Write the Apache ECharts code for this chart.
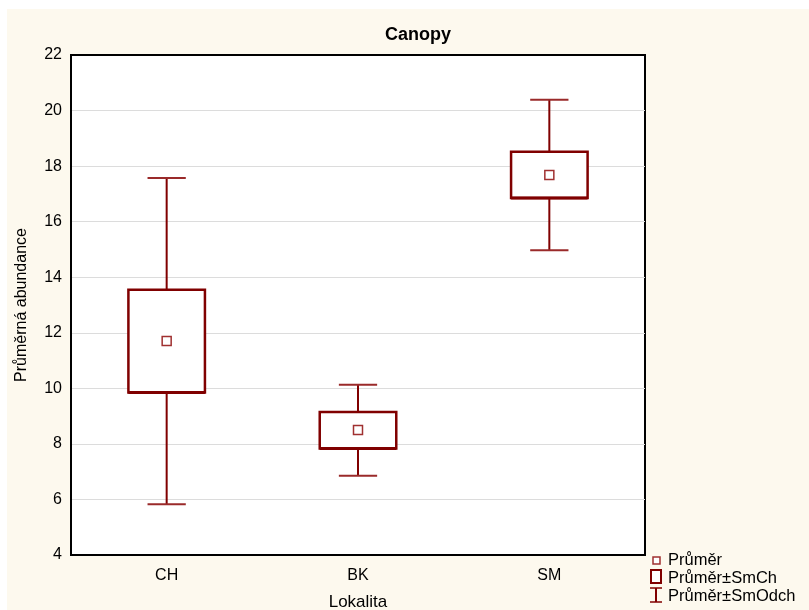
<!DOCTYPE html>
<html>
<head>
<meta charset="utf-8">
<script src="https://cdn.jsdelivr.net/npm/echarts@6/dist/echarts.min.js"></script>
<style>
html, body { margin: 0; padding: 0; background: #fff; }
#chart { width: 809px; height: 610px; }
</style>
</head>
<body>
<div id="chart"></div>
<script>
const categories = ['CH', 'BK', 'SM']
const means = [11.7, 8.5, 17.68]
const seLow = [9.85, 7.83, 16.85]
const seHigh = [13.55, 9.15, 18.52]
const sdLow = [5.83, 6.85, 14.97]
const sdHigh = [17.57, 10.13, 20.39]

const dark = '#800000'
const font = 'Liberation Sans, Arial, sans-serif'

let chart = echarts.init(document.getElementById('chart'))

// whiskers: mean ± SD
function renderWhisker (params, api) {
  let lo = api.coord([api.value(0), api.value(1)])
  let hi = api.coord([api.value(0), api.value(2)])
  let cap = api.size([1, 0])[0] * 0.1
  let x = lo[0]
  return {
    type: 'group',
    children: [
      { type: 'line', shape: { x1: x, y1: lo[1], x2: x, y2: hi[1] }, style: { stroke: dark, lineWidth: 2 } },
      { type: 'line', shape: { x1: x - cap, y1: lo[1], x2: x + cap, y2: lo[1] }, style: { stroke: '#9a2a2a', lineWidth: 2 } },
      { type: 'line', shape: { x1: x - cap, y1: hi[1], x2: x + cap, y2: hi[1] }, style: { stroke: '#9a2a2a', lineWidth: 2 } }
    ]
  }
}

// box: mean ± SE
function renderBox (params, api) {
  let lo = api.coord([api.value(0), api.value(1)])
  let hi = api.coord([api.value(0), api.value(2)])
  let half = api.size([1, 0])[0] * 0.2
  let x = lo[0]
  return {
    type: 'group',
    children: [
      { type: 'rect', shape: { x: x - half, y: hi[1], width: half * 2, height: lo[1] - hi[1] }, style: { fill: '#fff', stroke: dark, lineWidth: 2.5 } },
      { type: 'line', shape: { x1: x - half, y1: lo[1], x2: x + half, y2: lo[1] }, style: { stroke: dark, lineWidth: 3 } }
    ]
  }
}

let option = {
  backgroundColor: '#fdf9ee',
  animation: false,
  title: {
    text: 'Canopy',
    left: 413,
    top: 21,
    textAlign: 'center',
    textStyle: { fontFamily: font, fontSize: 18, fontWeight: 'bold', color: '#000' }
  },
  grid: {
    left: 71,
    right: 164,
    top: 55,
    bottom: 55,
    outerBoundsMode: 'none',
    containLabel: false,
    show: true,
    backgroundColor: '#fff',
    borderColor: '#000',
    borderWidth: 2
  },
  xAxis: [{
    type: 'category',
    data: categories,
    boundaryGap: true,
    name: 'Lokalita',
    nameLocation: 'middle',
    nameGap: 39,
    nameTextStyle: { fontFamily: font, fontSize: 17, color: '#000' },
    axisLine: { lineStyle: { color: '#000', width: 2 } },
    axisTick: { alignWithLabel: true, inside: true, length: 4, lineStyle: { color: '#000' } },
    axisLabel: { fontFamily: font, fontSize: 16, color: '#000', margin: 13 }
  }, {
    type: 'category',
    data: categories,
    position: 'top',
    boundaryGap: true,
    axisLine: { lineStyle: { color: '#000', width: 2 } },
    axisTick: { alignWithLabel: true, inside: true, length: 4, lineStyle: { color: '#000' } },
    axisLabel: { show: false }
  }],
  yAxis: {
    type: 'value',
    min: 4,
    max: 22,
    interval: 2,
    name: 'Průměrná abundance',
    nameLocation: 'middle',
    nameGap: 41,
    nameTextStyle: { fontFamily: font, fontSize: 16, color: '#000' },
    axisLine: { show: true, lineStyle: { color: '#000', width: 2 } },
    axisTick: { show: false },
    axisLabel: { fontFamily: font, fontSize: 16, color: '#000', margin: 9 },
    splitLine: { lineStyle: { color: '#dcdcdc', width: 1 } }
  },
  series: [{
    name: 'Průměr±SmOdch',
    type: 'custom',
    renderItem: renderWhisker,
    encode: { x: 0, y: [1, 2] },
    data: categories.map((c, i) => [i, sdLow[i], sdHigh[i]]),
    z: 2
  }, {
    name: 'Průměr±SmCh',
    type: 'custom',
    renderItem: renderBox,
    encode: { x: 0, y: [1, 2] },
    data: categories.map((c, i) => [i, seLow[i], seHigh[i]]),
    z: 3
  }, {
    name: 'Průměr',
    type: 'scatter',
    symbol: 'rect',
    symbolSize: 9,
    itemStyle: { color: '#fff', borderColor: '#a03030', borderWidth: 1.5, opacity: 1 },
    data: categories.map((c, i) => [i, means[i]]),
    z: 4
  }],
  graphic: [
    // white page strips round the figure
    { type: 'rect', left: 0, top: 0, shape: { width: 809, height: 9 }, style: { fill: '#fff' } },
    { type: 'rect', left: 0, top: 0, shape: { width: 7, height: 610 }, style: { fill: '#fff' } },
    // legend
    { type: 'rect', shape: { x: 653, y: 557, width: 7, height: 7 }, style: { fill: '#fff', stroke: '#a03030', lineWidth: 1.5 } },
    { type: 'text', x: 668, y: 560, style: { text: 'Průměr', font: '16.5px ' + font, fill: '#000', verticalAlign: 'middle' } },
    { type: 'rect', shape: { x: 651, y: 570, width: 10, height: 13 }, style: { fill: '#fff', stroke: dark, lineWidth: 2 } },
    { type: 'text', x: 668, y: 578, style: { text: 'Průměr±SmCh', font: '16.5px ' + font, fill: '#000', verticalAlign: 'middle' } },
    { type: 'line', shape: { x1: 656, y1: 588, x2: 656, y2: 602 }, style: { stroke: dark, lineWidth: 2 } },
    { type: 'line', shape: { x1: 650, y1: 588, x2: 662, y2: 588 }, style: { stroke: dark, lineWidth: 1.5 } },
    { type: 'line', shape: { x1: 650, y1: 602, x2: 662, y2: 602 }, style: { stroke: dark, lineWidth: 1.5 } },
    { type: 'text', x: 668, y: 596, style: { text: 'Průměr±SmOdch', font: '16.5px ' + font, fill: '#000', verticalAlign: 'middle' } }
  ]
}

chart.setOption(option)
</script>
</body>
</html>
